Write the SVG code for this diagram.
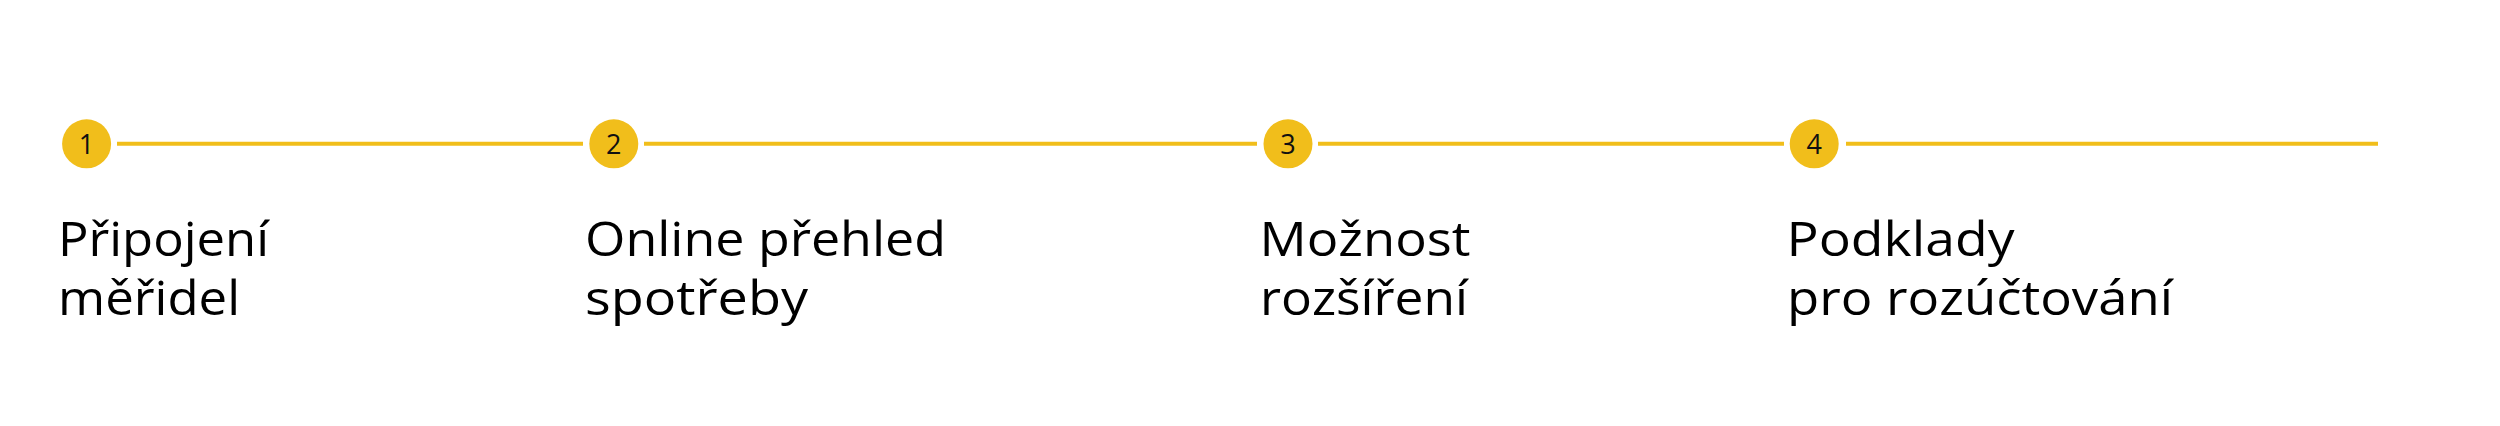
<svg xmlns="http://www.w3.org/2000/svg" width="2500" height="426" viewBox="0 0 2500 426">
<style>
.dot{fill:#F1BE1B}
.num{font-family:"Open Sans","Liberation Sans",sans-serif;font-size:27px;fill:#111;text-anchor:middle}
.lbl{font-family:"Open Sans","Liberation Sans",sans-serif;font-size:48px;fill:#000}
.ln{stroke:#F1BE1B;stroke-width:4;fill:none}
</style>
<rect width="2500" height="426" fill="#fff"/>
<g id="connectors">
<line class="ln" x1="117" y1="143.7" x2="583" y2="143.7"/>
<line class="ln" x1="644" y1="143.7" x2="1257" y2="143.7"/>
<line class="ln" x1="1318" y1="143.7" x2="1784" y2="143.7"/>
<line class="ln" x1="1846" y1="143.7" x2="2378" y2="143.7"/>
</g>
<g id="step1">
<circle class="dot" cx="86.6" cy="143.8" r="24.5"/>
<text class="num" x="86.6" y="153.5">1</text>
<text class="lbl" x="58" y="256" textLength="211" lengthAdjust="spacingAndGlyphs">Připojení</text>
<text class="lbl" x="58" y="315" textLength="182" lengthAdjust="spacingAndGlyphs">měřidel</text>
</g>
<g id="step2">
<circle class="dot" cx="613.8" cy="143.8" r="24.5"/>
<text class="num" x="613.8" y="153.5">2</text>
<text class="lbl" x="585" y="256" textLength="361" lengthAdjust="spacingAndGlyphs">Online přehled</text>
<text class="lbl" x="585" y="315" textLength="223" lengthAdjust="spacingAndGlyphs">spotřeby</text>
</g>
<g id="step3">
<circle class="dot" cx="1288" cy="143.8" r="24.5"/>
<text class="num" x="1288" y="153.5">3</text>
<text class="lbl" x="1259.5" y="256" textLength="211" lengthAdjust="spacingAndGlyphs">Možnost</text>
<text class="lbl" x="1260" y="315" textLength="208" lengthAdjust="spacingAndGlyphs">rozšíření</text>
</g>
<g id="step4">
<circle class="dot" cx="1814.2" cy="143.8" r="24.5"/>
<text class="num" x="1814.2" y="153.5">4</text>
<text class="lbl" x="1786.5" y="256" textLength="228" lengthAdjust="spacingAndGlyphs">Podklady</text>
<text class="lbl" x="1787" y="315" textLength="386" lengthAdjust="spacingAndGlyphs">pro rozúčtování</text>
</g>
</svg>
